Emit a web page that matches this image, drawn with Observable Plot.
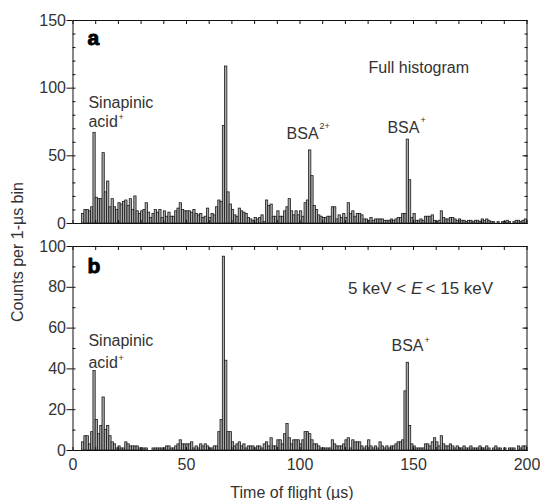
<!DOCTYPE html>
<html>
<head>
<meta charset="utf-8">
<script src="https://cdn.jsdelivr.net/npm/d3@7"></script>
<script src="https://cdn.jsdelivr.net/npm/@observablehq/plot@0.6"></script>
<style>
  html, body { margin: 0; padding: 0; background: #fff; }
  #wrap { position: relative; width: 540px; height: 500px; font-family: "Liberation Sans", Arial, sans-serif; }
  #wrap svg { display: block; }
  #ylab { position: absolute; left: 18px; top: 252px; transform: translate(-50%, -50%) rotate(-90deg);
          white-space: nowrap; font-size: 16px; color: #333; }
</style>
</head>
<body>
<div id="wrap"><div id="ylab">Counts per 1-µs bin</div></div>
<script>
// Counts per 1-µs time-of-flight bin, bins 0..199 (bin i covers i..i+1 µs)
const countsFull = [
  0,0,0,0,7,10,10,9,12,67,
  19,18,18,52,23,31,12,18,12,10,
  15,14,16,17,13,18,10,20,9,7,
  9,10,15,8,4,7,10,8,10,4,
  9,5,8,5,5,9,11,15,10,9,
  9,9,8,10,7,6,7,4,5,11,
  4,7,6,12,17,16,72,116,23,14,
  10,6,5,11,9,8,7,4,3,2,
  4,3,4,6,1,17,13,14,5,5,
  9,5,5,9,12,18,9,6,9,6,
  9,5,15,17,54,35,13,10,6,5,
  4,4,5,5,12,12,3,6,4,7,
  4,15,7,9,5,7,7,6,3,3,
  2,4,2,3,3,3,3,2,2,2,
  3,2,3,4,4,7,7,62,32,4,
  7,2,2,3,2,5,5,5,6,2,
  1,2,9,4,3,3,4,4,3,2,
  3,2,2,1,2,2,1,2,2,1,
  3,2,3,2,1,1,0,1,0,1,
  1,2,1,0,1,2,2,1,2,3
];
const countsEnergy = [
  0,0,0,0,4,7,7,3,9,39,
  15,8,12,26,10,12,7,4,3,1,
  2,1,1,4,3,2,2,2,2,1,
  1,1,1,0,0,1,1,1,1,1,
  1,2,2,1,1,2,3,5,3,3,
  3,3,4,1,2,1,3,2,3,2,
  1,1,2,2,9,15,95,44,9,9,
  4,2,3,4,2,3,1,2,2,2,
  1,2,2,1,3,4,2,6,2,2,
  5,5,3,8,13,6,3,5,5,5,
  3,5,9,9,8,5,3,3,2,1,
  1,1,1,1,5,3,2,2,2,3,
  5,6,1,5,4,4,4,2,1,2,
  5,2,1,2,1,4,2,1,2,1,
  2,2,3,4,4,5,29,43,12,3,
  2,1,1,1,1,3,3,2,4,6,
  4,2,7,3,2,2,3,2,1,2,
  1,1,2,1,1,2,1,1,1,2,
  1,1,2,1,0,1,2,1,1,0,
  1,0,1,1,1,0,2,1,2,2
];
const xDomain = [0, 200];
const xTickLabels = [0, 50, 100, 150, 200];
const yDomainA = [0, 150];
const yTickLabelsA = [0, 50, 100, 150];
const yDomainB = [0, 100];
const yTickLabelsB = [0, 20, 40, 60, 80, 100];

const font = '"Liberation Sans", Arial, sans-serif';
const ink = "#333";
const toBins = counts => counts.map((c, i) => ({t0: i, t1: i + 1, c}));

function label(x, y, text, opts = {}) {
  return Plot.text([{x, y, text}], {
    x: "x", y: "y", text: "text", textAnchor: "start", lineAnchor: "bottom",
    fill: ink, fontSize: 16, ...opts
  });
}
// superscript placed after a word of given pixel width
function sup(x, y, text, dx, dy) {
  return label(x, y, text, {fontSize: 9, dx, dy});
}
function panelLetter(x, y, text) {
  return label(x, y, text, {fontWeight: "bold", fontSize: 21, fill: "#000", stroke: "#000", strokeWidth: 0.9});
}

function panel({counts, yDomain, yMajor, height, marginTop, marginBottom, extra, bottomLabels}) {
  const minorY = d3.range(yDomain[0], yDomain[1] + 1, 10);
  const minorX = d3.range(0, 201, 10);
  const blank = () => "";
  return Plot.plot({
    width: 540, height, marginTop, marginBottom, marginLeft: 72.5, marginRight: 13.5,
    style: {fontFamily: font, fontSize: "16px", color: "#111", background: "white", overflow: "visible"},
    x: {domain: xDomain},
    y: {domain: yDomain},
    marks: [
      Plot.rectY(toBins(counts), {x1: "t0", x2: "t1", y: "c", fill: "#ababab", stroke: "#1a1a1a", strokeWidth: 0.8}),
      Plot.frame({stroke: "#111", strokeWidth: 1}),
      Plot.axisY({anchor: "left", ticks: yMajor, tickSize: 6, tickPadding: 1, label: null, fill: ink}),
      Plot.axisY({anchor: "left", ticks: minorY, tickSize: -3, tickFormat: blank, label: null}),
      Plot.axisY({anchor: "right", ticks: minorY, tickSize: -3, tickFormat: blank, label: null}),
      Plot.axisY({anchor: "right", ticks: yMajor, tickSize: -5, tickFormat: blank, label: null}),
      Plot.axisX({anchor: "top", ticks: minorX, tickSize: -3, tickFormat: blank, label: null}),
      bottomLabels
        ? Plot.axisX({anchor: "bottom", ticks: xTickLabels, tickSize: 0, tickPadding: 8, label: null, fill: ink})
        : null,
      Plot.axisX({anchor: "bottom", ticks: minorX, tickSize: -3, tickFormat: blank, label: null}),
      ...extra
    ]
  });
}

const panelA = panel({
  counts: countsFull, yDomain: yDomainA, yMajor: yTickLabelsA,
  height: 228, marginTop: 20, marginBottom: 5, bottomLabels: false,
  extra: [
    panelLetter(6.4, 131.6, "a"),
    label(6.8, 85.1, "Sinapinic"),
    label(6.8, 71.1, "acid"),
    sup(6.8, 71.1, "+", 30, -7),
    label(94.1, 62.2, "BSA"),
    sup(94.1, 62.2, "2+", 33, -10),
    label(138.5, 66.6, "BSA"),
    sup(138.5, 66.6, "+", 33, -10),
    label(130.2, 110.9, "Full histogram")
  ]
});

const panelB = panel({
  counts: countsEnergy, yDomain: yDomainB, yMajor: yTickLabelsB,
  height: 272, marginTop: 18, marginBottom: 50, bottomLabels: true,
  extra: [
    panelLetter(6.4, 86.8, "b"),
    label(6.8, 51, "Sinapinic"),
    label(6.8, 40.2, "acid"),
    sup(6.8, 40.2, "+", 30, -7),
    label(140.3, 49, "BSA"),
    sup(140.3, 49, "+", 33, -8),
    label(146.8, 76.5, "5 keV <", {textAnchor: "end", fontSize: 17, letterSpacing: "0.04em"}),
    label(148.9, 76.5, "E", {fontStyle: "italic", fontSize: 17}),
    label(155.3, 76.5, "< 15 keV", {fontSize: 17}),
    Plot.text(["Time of flight (µs)"], {frameAnchor: "bottom", dx: -8, dy: 47, lineAnchor: "bottom", fill: ink, fontSize: 16})
  ]
});

const wrap = document.getElementById("wrap");
wrap.appendChild(panelA);
wrap.appendChild(panelB);
</script>
</body>
</html>
